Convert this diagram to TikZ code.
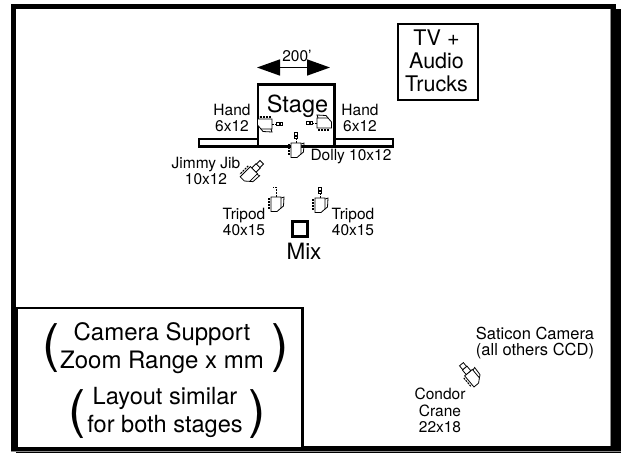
\documentclass[tikz,border=0pt]{standalone}
\usepackage{fontspec}
\setmainfont{TeX Gyre Heros}
\usetikzlibrary{arrows.meta}
\newcommand\fsize[2]{\fontsize{#1}{#2}\selectfont}
\newcommand\cambody{%
	\draw[camline] (-5,-7) -- (5,-7) -- (5,4) -- (1,7.5) -- (-5,7.5) -- cycle;
	\draw[line width=.8pt] (5,-6) -- (8,-7) -- (7.5,2) -- (5,4);
	\draw[line width=1.1pt,dash pattern=on 2pt off 1pt] (-7,-6) -- (-7,6);}
\tikzstyle{lbl} = [align=center,inner sep=0pt,anchor=base,font=\fsize{15.5}{16}]
\tikzstyle{bracket} = [inner sep=0pt,font=\fsize{52}{52}]
\tikzstyle{box} = [draw,line width=2.5pt,fill=white,inner sep=0pt]
\tikzstyle{camline} = [draw,line width=.8pt,fill=white]
\tikzset{
	camera/.pic={
		\cambody
		\draw[line width=.8pt,dash pattern=on 2pt off 1pt] (0,-7) -- (0,-11);
		\draw[line width=.8pt] (-1.5,-14) rectangle (1.5,-11.5);
		\draw[line width=.8pt] (-1.5,-17.5) rectangle (1.5,-15);
	},
	hookcam/.pic={
		\cambody
		\draw[line width=.8pt,dash pattern=on 2pt off 1pt] (0,-7) -- (0,-17) -- (-3,-17);
	},
	shortcam/.pic={
		\cambody
		\draw[camline] (-3,-13) rectangle (3,-7);
		\draw[camline] (-2.5,-18) rectangle (2.5,-13);
	}
}

\begin{document}
\begin{tikzpicture}[x=1pt,y=-1pt]
\useasboundingbox (0,0) rectangle (621,453);

% outer frame with its shadow
\fill[black!45] (10.5,3.5) rectangle (616,452);
\fill (11,4) rectangle (616,9);
\fill (11,4) rectangle (16,451);
\fill (611,9) rectangle (621,453);
\fill (11,446) rectangle (621,451);
\fill[black!45] (16,451) rectangle (621,452);
\fill (16,452) rectangle (621,453);
\fill[white] (16,9) rectangle (610,445.5);
\fill[black!45] (610,9) rectangle (611,446);

% stage and wings
\node[box,minimum width=59pt,minimum height=7.4pt] (wingL) at (228.5,142.7) {};
\node[box,minimum width=58.5pt,minimum height=7.4pt] (wingR) at (363.7,142.7) {};
\node[box,minimum width=76.5pt,minimum height=62pt] (stage) at (296.2,115.6) {};
\node[lbl,font=\fsize{23.5}{24}] (stagetxt) at (297.5,112.5) {Stage};

\coordinate (widthL) at (257,67.5);
\coordinate (widthR) at (330,67.5);
\draw[line width=1.5pt,{Triangle[length=23pt,width=16pt]}-{Triangle[length=23pt,width=16pt]}] (widthL) -- (widthR);
\node[lbl] (width) at (297,61) {200'};

% boxes
\node[box,minimum width=80pt,minimum height=76pt] (trucksbox) at (438,62) {};
\node[lbl,font=\fsize{21.5}{23.3}] (trucks) at (436.5,91.7) {TV +\\Audio\\Trucks};
\node[box,minimum width=15pt,minimum height=15pt] (mixbox) at (300,229) {};
\node[lbl,font=\fsize{22.5}{24}] (mix) at (304,259) {Mix};

% legend
\node[box,minimum width=286pt,minimum height=140pt,anchor=north west] (legendbox) at (15,306.5) {};
\node[lbl,font=\fsize{24}{28}] (legendA) at (162,368) {Camera Support\\Zoom Range x mm};
\node[lbl,font=\fsize{23.6}{28.7}] (legendB) at (165,432.7) {Layout similar\\for both stages};
\node[bracket] (bracketAL) at (51,348) {(};
\node[bracket] (bracketAR) at (280,348) {)};
\node[bracket] (bracketBL) at (77.5,414) {(};
\node[bracket] (bracketBR) at (257.5,414) {)};

% crew labels
\node[lbl] (handL) at (232,131.7) {Hand\\6x12};
\node[lbl] (handR) at (360,131.7) {Hand\\6x12};
\node[lbl] (dolly) at (351,160.7) {Dolly 10x12};
\node[lbl] (jib) at (206,184) {Jimmy Jib\\10x12};
\node[lbl] (tripodL) at (244,235) {Tripod\\40x15};
\node[lbl] (tripodR) at (353,235) {Tripod\\40x15};
\node[lbl,font=\fsize{16.5}{16}] (saticon) at (535,355.7) {Saticon Camera\\(all others CCD)};
\node[lbl,font=\fsize{15.5}{16.4}] (condor) at (440,432.7) {Condor\\Crane\\22x18};

% cameras
\pic[rotate=-90] at (265,124) {camera};
\pic[rotate=90] at (324,123) {camera};
\pic at (296,150) {camera};
\pic[rotate=-45] at (249,175) {shortcam};
\pic at (276,204) {hookcam};
\pic at (320,205) {camera};
\pic[rotate=40] at (473,378) {shortcam};

\end{tikzpicture}
\end{document}
